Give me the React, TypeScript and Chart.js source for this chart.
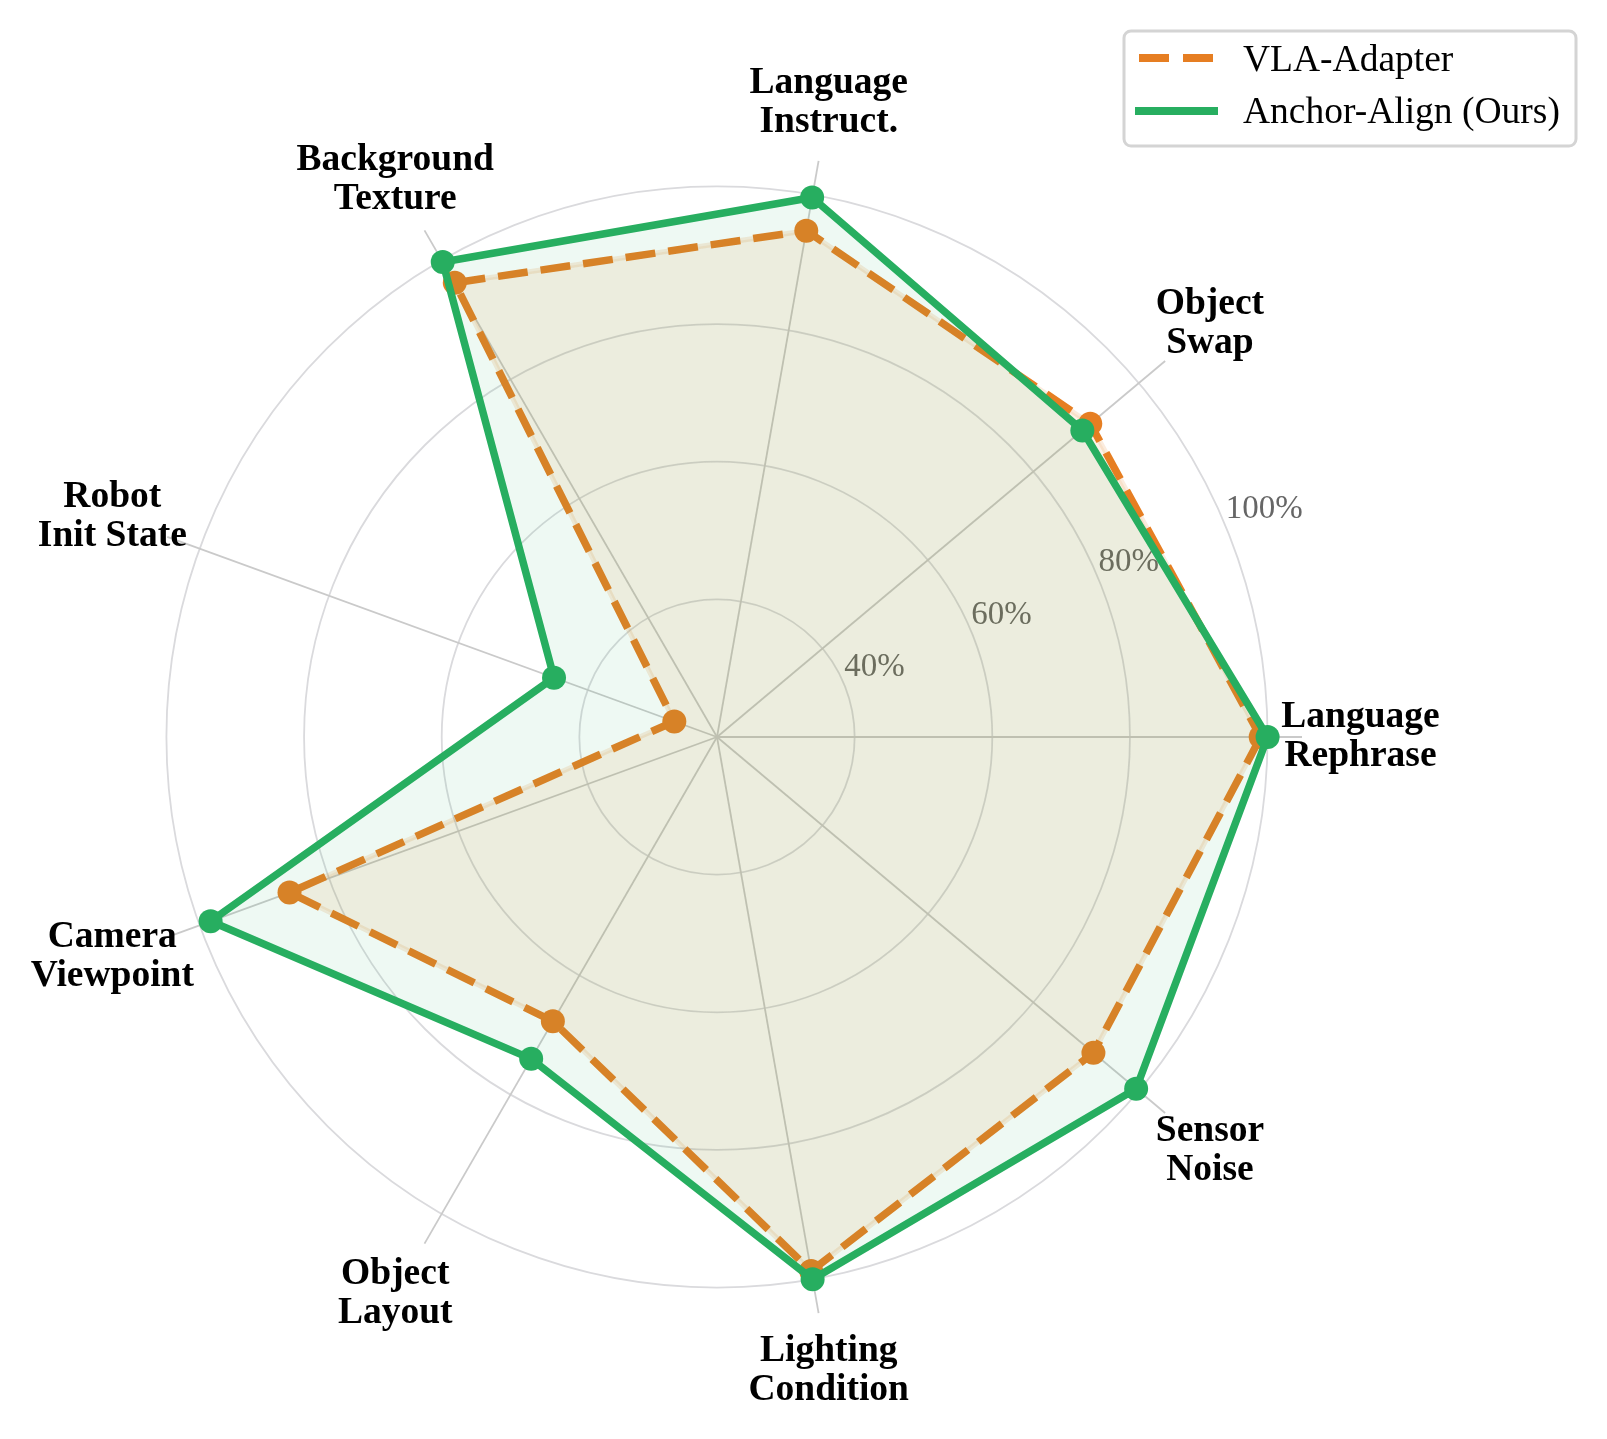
import React, { useEffect, useRef } from 'react';
import { Chart, RadarController, RadialLinearScale, PointElement, LineElement, Filler } from 'chart.js';

Chart.register(RadarController, RadialLinearScale, PointElement, LineElement, Filler);

// Chart.js lays labels out clockwise from 3 o'clock (startAngle 90)
const categories: string[][] = [
  ['Language', 'Rephrase'],
  ['Sensor', 'Noise'],
  ['Lighting', 'Condition'],
  ['Object', 'Layout'],
  ['Camera', 'Viewpoint'],
  ['Robot', 'Init State'],
  ['Background', 'Texture'],
  ['Language', 'Instruct.'],
  ['Object', 'Swap'],
];
const vlaAdapter = [99.0, 91.4, 98.8, 67.7, 86.1, 26.6, 96.2, 94.7, 90.8];
const anchorAlign = [100, 99.5, 100, 74.0, 98.3, 45.2, 99.7, 99.6, 89.3];
const rTicks = [40, 60, 80, 100];
const seriesNames = ['VLA-Adapter', 'Anchor-Align (Ours)'];

const ORANGE = '#e67e22';
const GREEN = '#27ae60';
const SERIF = '"Liberation Serif", "Times New Roman", serif';

const overlay = {
  id: 'overlay',
  beforeDatasetsDraw(chart: any) {
    const s = chart.scales.r;
    const ctx = chart.ctx;
    ctx.save();
    ctx.font = `33px ${SERIF}`;
    ctx.fillStyle = '#666';
    ctx.textAlign = 'left';
    ctx.textBaseline = 'bottom';
    const a = -Math.PI / 8;
    rTicks.forEach(v => {
      const d = s.getDistanceFromCenterForValue(v);
      ctx.fillText(`${v}%`, s.xCenter + d * Math.cos(a), s.yCenter + d * Math.sin(a));
    });
    ctx.restore();
  },
  afterDraw(chart: any) {
    const s = chart.scales.r;
    const ctx = chart.ctx;
    ctx.save();
    // category labels
    ctx.font = `bold 37.5px ${SERIF}`;
    ctx.fillStyle = '#000';
    ctx.textAlign = 'center';
    ctx.textBaseline = 'middle';
    const dist = s.drawingArea * 1.1;
    categories.forEach((lines, i) => {
      const p = s.getPointPosition(i, dist);
      lines.forEach((t, j) => ctx.fillText(t, p.x, p.y + (j - (lines.length - 1) / 2) * 39));
    });

    // legend
    ctx.beginPath();
    ctx.roundRect(1124, 31, 452, 115, 7);
    ctx.fillStyle = 'rgba(255,255,255,0.85)';
    ctx.fill();
    ctx.lineWidth = 3;
    ctx.strokeStyle = '#d4d4d4';
    ctx.stroke();

    ctx.lineWidth = 8;
    ctx.strokeStyle = ORANGE;
    ctx.lineCap = 'butt';
    ctx.setLineDash([30, 14]);
    ctx.beginPath();
    ctx.moveTo(1139, 58);
    ctx.lineTo(1214, 58);
    ctx.stroke();

    ctx.strokeStyle = GREEN;
    ctx.lineCap = 'square';
    ctx.setLineDash([]);
    ctx.beginPath();
    ctx.moveTo(1139, 111);
    ctx.lineTo(1214, 111);
    ctx.stroke();

    ctx.font = `37.5px ${SERIF}`;
    ctx.fillStyle = '#000';
    ctx.textAlign = 'left';
    ctx.textBaseline = 'alphabetic';
    ctx.fillText(seriesNames[0], 1243, 71);
    ctx.fillText(seriesNames[1], 1243, 123);
    ctx.restore();
  },
};

export default function App() {
  const canvasRef = useRef<HTMLCanvasElement>(null);

  useEffect(() => {
    const ctx = canvasRef.current!.getContext('2d')!;
    Chart.defaults.font.family = SERIF;

    const chart = new Chart(ctx, {
      type: 'radar',
      data: {
        labels: categories,
        datasets: [
          {
            label: 'edge',
            data: vlaAdapter,
            borderColor: 'rgba(230,126,34,0.15)',
            borderWidth: 5,
            pointRadius: 0,
            fill: false,
            order: 3,
          },
          {
            label: seriesNames[0],
            data: vlaAdapter,
            borderColor: ORANGE,
            backgroundColor: 'rgba(230,126,34,0.1)',
            borderWidth: 7.5,
            borderDash: [30, 13],
            borderCapStyle: 'butt',
            borderJoinStyle: 'round',
            fill: true,
            pointRadius: 12,
            pointBackgroundColor: ORANGE,
            pointBorderWidth: 0,
            order: 2,
          },
          {
            label: seriesNames[1],
            data: anchorAlign,
            borderColor: GREEN,
            backgroundColor: 'rgba(39,174,96,0.08)',
            borderWidth: 7.5,
            borderJoinStyle: 'round',
            fill: true,
            pointRadius: 12,
            pointBackgroundColor: GREEN,
            pointBorderWidth: 0,
            order: 1,
          },
        ],
      },
      options: {
        responsive: true,
        maintainAspectRatio: false,
        animation: false,
        events: [],
        layout: { padding: { left: 132, right: 305, top: 152, bottom: 117 } },
        plugins: { legend: { display: false }, tooltip: { enabled: false } },
        scales: {
          r: {
            min: 20,
            max: 105,
            startAngle: 90,
            afterBuildTicks: (s: any) => {
              s.ticks = [20, ...rTicks].map(v => ({ value: v }));
            },
            ticks: { display: false },
            pointLabels: { display: false },
            grid: { circular: true, color: '#dadadd', lineWidth: 1.8 },
            angleLines: { color: '#cacaca', lineWidth: 1.8 },
          },
        },
      },
      plugins: [overlay],
    });

    return () => chart.destroy();
  }, []);

  return (
    <div style={{ position: 'absolute', left: 0, top: 0, width: 1607, height: 1439, background: '#fff' }}>
      <canvas ref={canvasRef} aria-label="Robustness radar chart"></canvas>
    </div>
  );
}
